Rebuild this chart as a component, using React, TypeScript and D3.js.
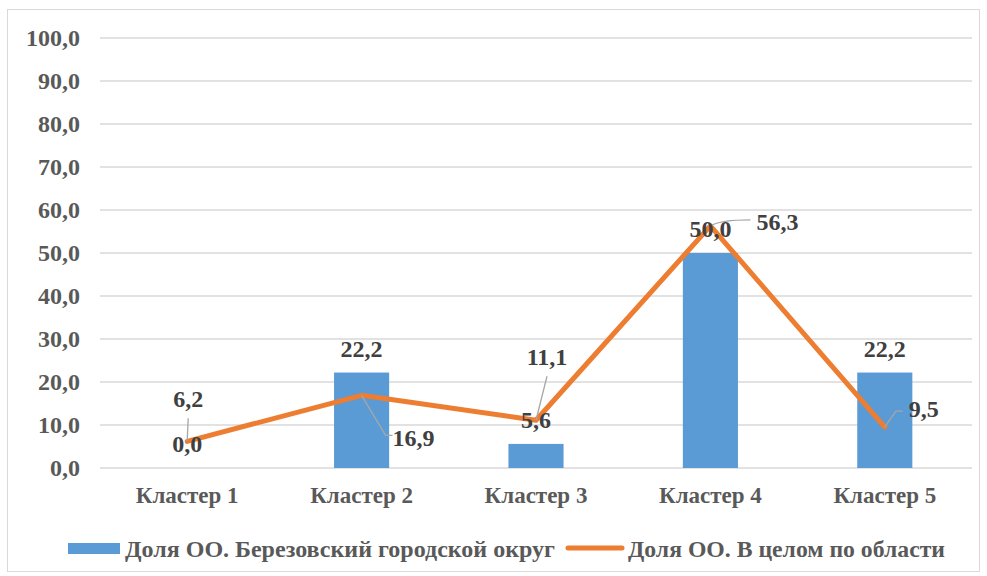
import React from "react";
import * as d3 from "d3";

const categories = ["Кластер 1", "Кластер 2", "Кластер 3", "Кластер 4", "Кластер 5"];
const districtValues = [0.0, 22.2, 5.6, 50.0, 22.2];
const regionValues = [6.2, 16.9, 11.1, 56.3, 9.5];
const yTicks = [0, 10, 20, 30, 40, 50, 60, 70, 80, 90, 100];
const seriesNames = ["Доля ОО. Березовский городской округ", "Доля ОО. В целом по области"];

// label placement for the line series (dx, dy of label centre relative to point) and leader path style
const regionLabelPlacement = [
  { dx: 1, dy: -43, leader: "straight" },
  { dx: 52, dy: 42, leader: "elbowRight" },
  { dx: 11, dy: -64, leader: "straight" },
  { dx: 67, dy: -4, leader: "curveRight" },
  { dx: 39, dy: -19, leader: "elbowRight" },
];

const W = 987;
const H = 576;
const margin = { left: 100, right: 15, top: 38, bottom: 108 };
const TS: React.CSSProperties = { fontFamily: "'Liberation Serif', 'Times New Roman', serif", fontWeight: "bold" };

export default function App() {
  const x = d3
    .scaleBand<string>()
    .domain(categories)
    .range([margin.left, W - margin.right])
    .paddingInner(0.684)
    .paddingOuter(0.342);
  const y = d3.scaleLinear().domain([0, 100]).range([H - margin.bottom, margin.top]);
  const fmt = (v: number) => d3.format(".1f")(v).replace(".", ",");
  const cx = (c: string) => (x(c) as number) + x.bandwidth() / 2;

  const line = d3
    .line<number>()
    .x((_, i) => cx(categories[i]))
    .y((v) => y(v));

  return (
    <svg width={W} height={H} style={{ position: "absolute", left: 0, top: 0, background: "#fff" }}>
      <rect x={7.5} y={9.5} width={972} height={562} fill="#fff" stroke="#d9d9d9" />
      {yTicks.map((t) => (
        <g key={t}>
          <line x1={margin.left} x2={W - margin.right} y1={y(t)} y2={y(t)} stroke="#d9d9d9" strokeWidth={1.3} />
          <text style={TS} x={80} y={y(t)} dy="0.35em" textAnchor="end" fontSize={24} fill="#595959">
            {fmt(t)}
          </text>
        </g>
      ))}
      {categories.map((c, i) => (
        <rect
          key={c}
          x={x(c)}
          y={y(districtValues[i])}
          width={x.bandwidth()}
          height={y(0) - y(districtValues[i])}
          fill="#5b9bd5"
        />
      ))}
      {categories.map((c) => (
        <text style={TS} key={c} x={cx(c)} y={495} dy="0.35em" textAnchor="middle" fontSize={23} fill="#595959">
          {c}
        </text>
      ))}
      <path d={line(regionValues) || ""} fill="none" stroke="#ed7d31" strokeWidth={5} strokeLinejoin="round" strokeLinecap="round" />
      {regionValues.map((v, i) => {
        const px = cx(categories[i]);
        const py = y(v);
        const p = regionLabelPlacement[i];
        let d = "";
        if (p.leader === "straight") {
          d = `M${px},${py} L${px + p.dx},${py + p.dy + (p.dy < 0 ? 20 : -14)}`;
        } else if (p.leader === "elbowRight") {
          const ex = px + p.dx - 21;
          const ey = py + p.dy + (p.dy > 0 ? -2 : 3);
          d = `M${px},${py} L${ex - 7},${ey} L${ex},${ey}`;
        } else {
          const ex = px + p.dx - 27;
          const ey = py + p.dy - 2;
          d = `M${px},${py} Q${px + 10},${ey} ${ex},${ey}`;
        }
        return <path key={i} d={d} fill="none" stroke="#a6a6a6" strokeWidth={1.3} />;
      })}
      {districtValues.map((v, i) => (
        <text style={TS} key={i} x={cx(categories[i])} y={y(v) - 24} dy="0.35em" textAnchor="middle" fontSize={24} fill="#404040">
          {fmt(v)}
        </text>
      ))}
      {regionValues.map((v, i) => {
        const p = regionLabelPlacement[i];
        return (
          <text style={TS} key={i} x={cx(categories[i]) + p.dx} y={y(v) + p.dy} dy="0.35em" textAnchor="middle" fontSize={24} fill="#404040">
            {fmt(v)}
          </text>
        );
      })}
      <rect x={68} y={543} width={52} height={11} fill="#5b9bd5" />
      <text style={TS} x={125} y={549} dy="0.35em" fontSize={24} fill="#595959" textLength={430} lengthAdjust="spacingAndGlyphs">
        {seriesNames[0]}
      </text>
      <line x1={568} x2={622} y1={548} y2={548} stroke="#ed7d31" strokeWidth={5} strokeLinecap="round" />
      <text style={TS} x={628} y={549} dy="0.35em" fontSize={24} fill="#595959" textLength={317} lengthAdjust="spacingAndGlyphs">
        {seriesNames[1]}
      </text>
    </svg>
  );
}
